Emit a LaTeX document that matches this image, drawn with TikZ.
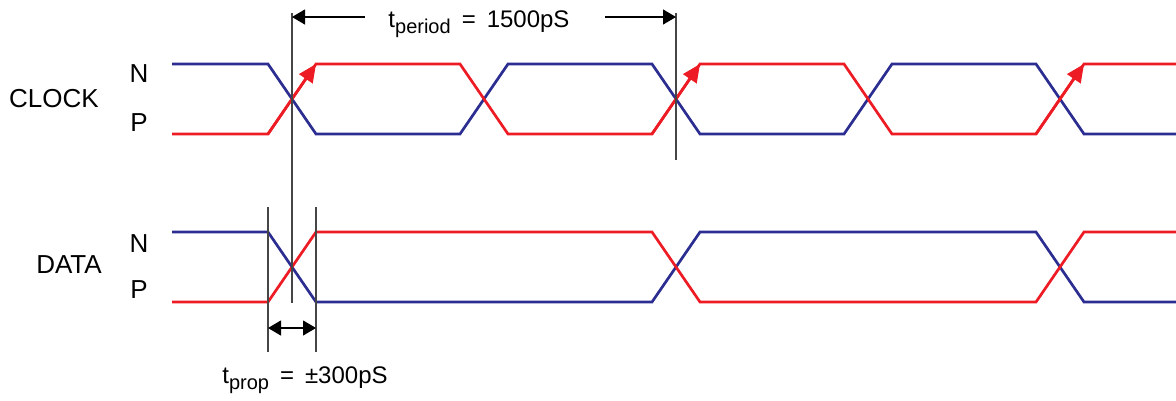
\documentclass[tikz,border=0pt]{standalone}
\usepackage{fontspec}
\setmainfont{Liberation Sans}
\usetikzlibrary{arrows.meta}
\definecolor{sigblue}{RGB}{43,45,145}
\definecolor{sigred}{RGB}{237,28,36}
\definecolor{guidegray}{RGB}{70,70,70}
\newcommand{\lowsub}[1]{\raisebox{-6pt}{\fontsize{20}{24}\selectfont #1}}

\begin{document}
\begin{tikzpicture}[x=1pt,y=-1pt]
\useasboundingbox (0,0) rectangle (1176,400);

% clock levels: N high at 64, P low at 134
\coordinate (C0) at (172,64);
\coordinate (C1_a) at (268,64);
\coordinate (C1_b) at (316,134);
\coordinate (C2_a) at (460,134);
\coordinate (C2_b) at (508,64);
\coordinate (C3_a) at (652,64);
\coordinate (C3_b) at (700,134);
\coordinate (C4_a) at (844,134);
\coordinate (C4_b) at (892,64);
\coordinate (C5_a) at (1036,64);
\coordinate (C5_b) at (1084,134);
\coordinate (C6) at (1176,134);

\coordinate (D0) at (172,232);
\coordinate (D1_a) at (268,232);
\coordinate (D1_b) at (316,302);
\coordinate (D2_a) at (652,302);
\coordinate (D2_b) at (700,232);
\coordinate (D3_a) at (1036,232);
\coordinate (D3_b) at (1084,302);
\coordinate (D4) at (1176,302);


\tikzset{SigStyle/.style = {line width=2.7pt, line join=miter} }

\draw[SigStyle, sigblue] (C0) -- (C1_a) -- (C1_b) -- (C2_a) -- (C2_b) -- (C3_a)
  -- (C3_b) -- (C4_a) -- (C4_b) -- (C5_a) -- (C5_b) -- (C6);
\draw[SigStyle, sigred] (C0 |- C6) -- (C1_a |- C1_b) -- (C1_b |- C0) -- (C2_a |- C0)
  -- (C2_b |- C2_a) -- (C3_a |- C2_a) -- (C3_b |- C0) -- (C4_a |- C0) -- (C4_b |- C4_a)
  -- (C5_a |- C4_a) -- (C5_b |- C0) -- (C6 |- C0);

\draw[SigStyle, sigblue] (D0) -- (D1_a) -- (D1_b) -- (D2_a) -- (D2_b) -- (D3_a) -- (D3_b) -- (D4);
\draw[SigStyle, sigred] (D0 |- D4) -- (D1_a |- D1_b) -- (D1_b |- D0) -- (D2_a |- D0)
  -- (D2_b |- D2_a) -- (D3_a |- D2_a) -- (D3_b |- D0) -- (D4 |- D0);

% rising edges of the clock
\tikzset{EdgeArrow/.style = {line width=2.7pt, sigred, -{Triangle[length=18pt,width=16pt]}} }
\draw[EdgeArrow] (C1_a |- C1_b) -- (C1_b |- C0);
\draw[EdgeArrow] (C3_a |- C1_b) -- (C3_b |- C0);
\draw[EdgeArrow] (C5_a |- C1_b) -- (C5_b |- C0);


\tikzset{GuideStyle/.style = {guidegray, line width=1.2pt} }
\tikzset{DimArrow/.style = {black, line width=1.2pt, {Triangle[length=13pt,width=15pt]}-{Triangle[length=13pt,width=15pt]}} }

\coordinate (G1_top) at (292,13);
\coordinate (G1_bot) at (292,303);
\coordinate (G2_top) at (676,13);
\coordinate (G2_bot) at (676,160);
\coordinate (G3_top) at (268,207);
\coordinate (G3_bot) at (268,352);
\coordinate (G4_top) at (316,207);
\coordinate (G4_bot) at (316,352);

\draw[GuideStyle] (G1_top) -- (G1_bot);
\draw[GuideStyle] (G2_top) -- (G2_bot);
\draw[GuideStyle] (G3_top) -- (G3_bot);
\draw[GuideStyle] (G4_top) -- (G4_bot);

\coordinate (PerL) at (292,17);
\coordinate (PerR) at (676,17);
\coordinate (PerGapL) at (365,17);
\coordinate (PerGapR) at (605,17);
\draw[black, line width=1.2pt, -{Triangle[length=13pt,width=15pt]}] (PerGapL) -- (PerL);
\draw[black, line width=1.2pt, -{Triangle[length=13pt,width=15pt]}] (PerGapR) -- (PerR);

\coordinate (PropL) at (268,328);
\coordinate (PropR) at (316,328);
\draw[DimArrow] (PropL) -- (PropR);


\tikzset{LabelStyle/.style = {anchor=base, inner sep=0pt, font=\fontsize{26}{30}\selectfont} }
\tikzset{TimeStyle/.style = {anchor=base, inner sep=0pt, font=\fontsize{24}{28}\selectfont} }

\node[LabelStyle] (CLK) at (54,107) {CLOCK};
\node[LabelStyle] (CLK_N) at (139,82) {N};
\node[LabelStyle] (CLK_P) at (139,131) {P};
\node[LabelStyle] (DAT) at (69,273) {DATA};
\node[LabelStyle] (DAT_N) at (139,252) {N};
\node[LabelStyle] (DAT_P) at (139,298) {P};

\node[TimeStyle] (TPer) at (479,27) {t\lowsub{period}\hspace{11pt}=\hspace{11pt}1500pS};
\node[TimeStyle] (TProp) at (305,383) {t\lowsub{prop}\hspace{11pt}=\hspace{11pt}\textpm300pS};

\end{tikzpicture}
\end{document}
